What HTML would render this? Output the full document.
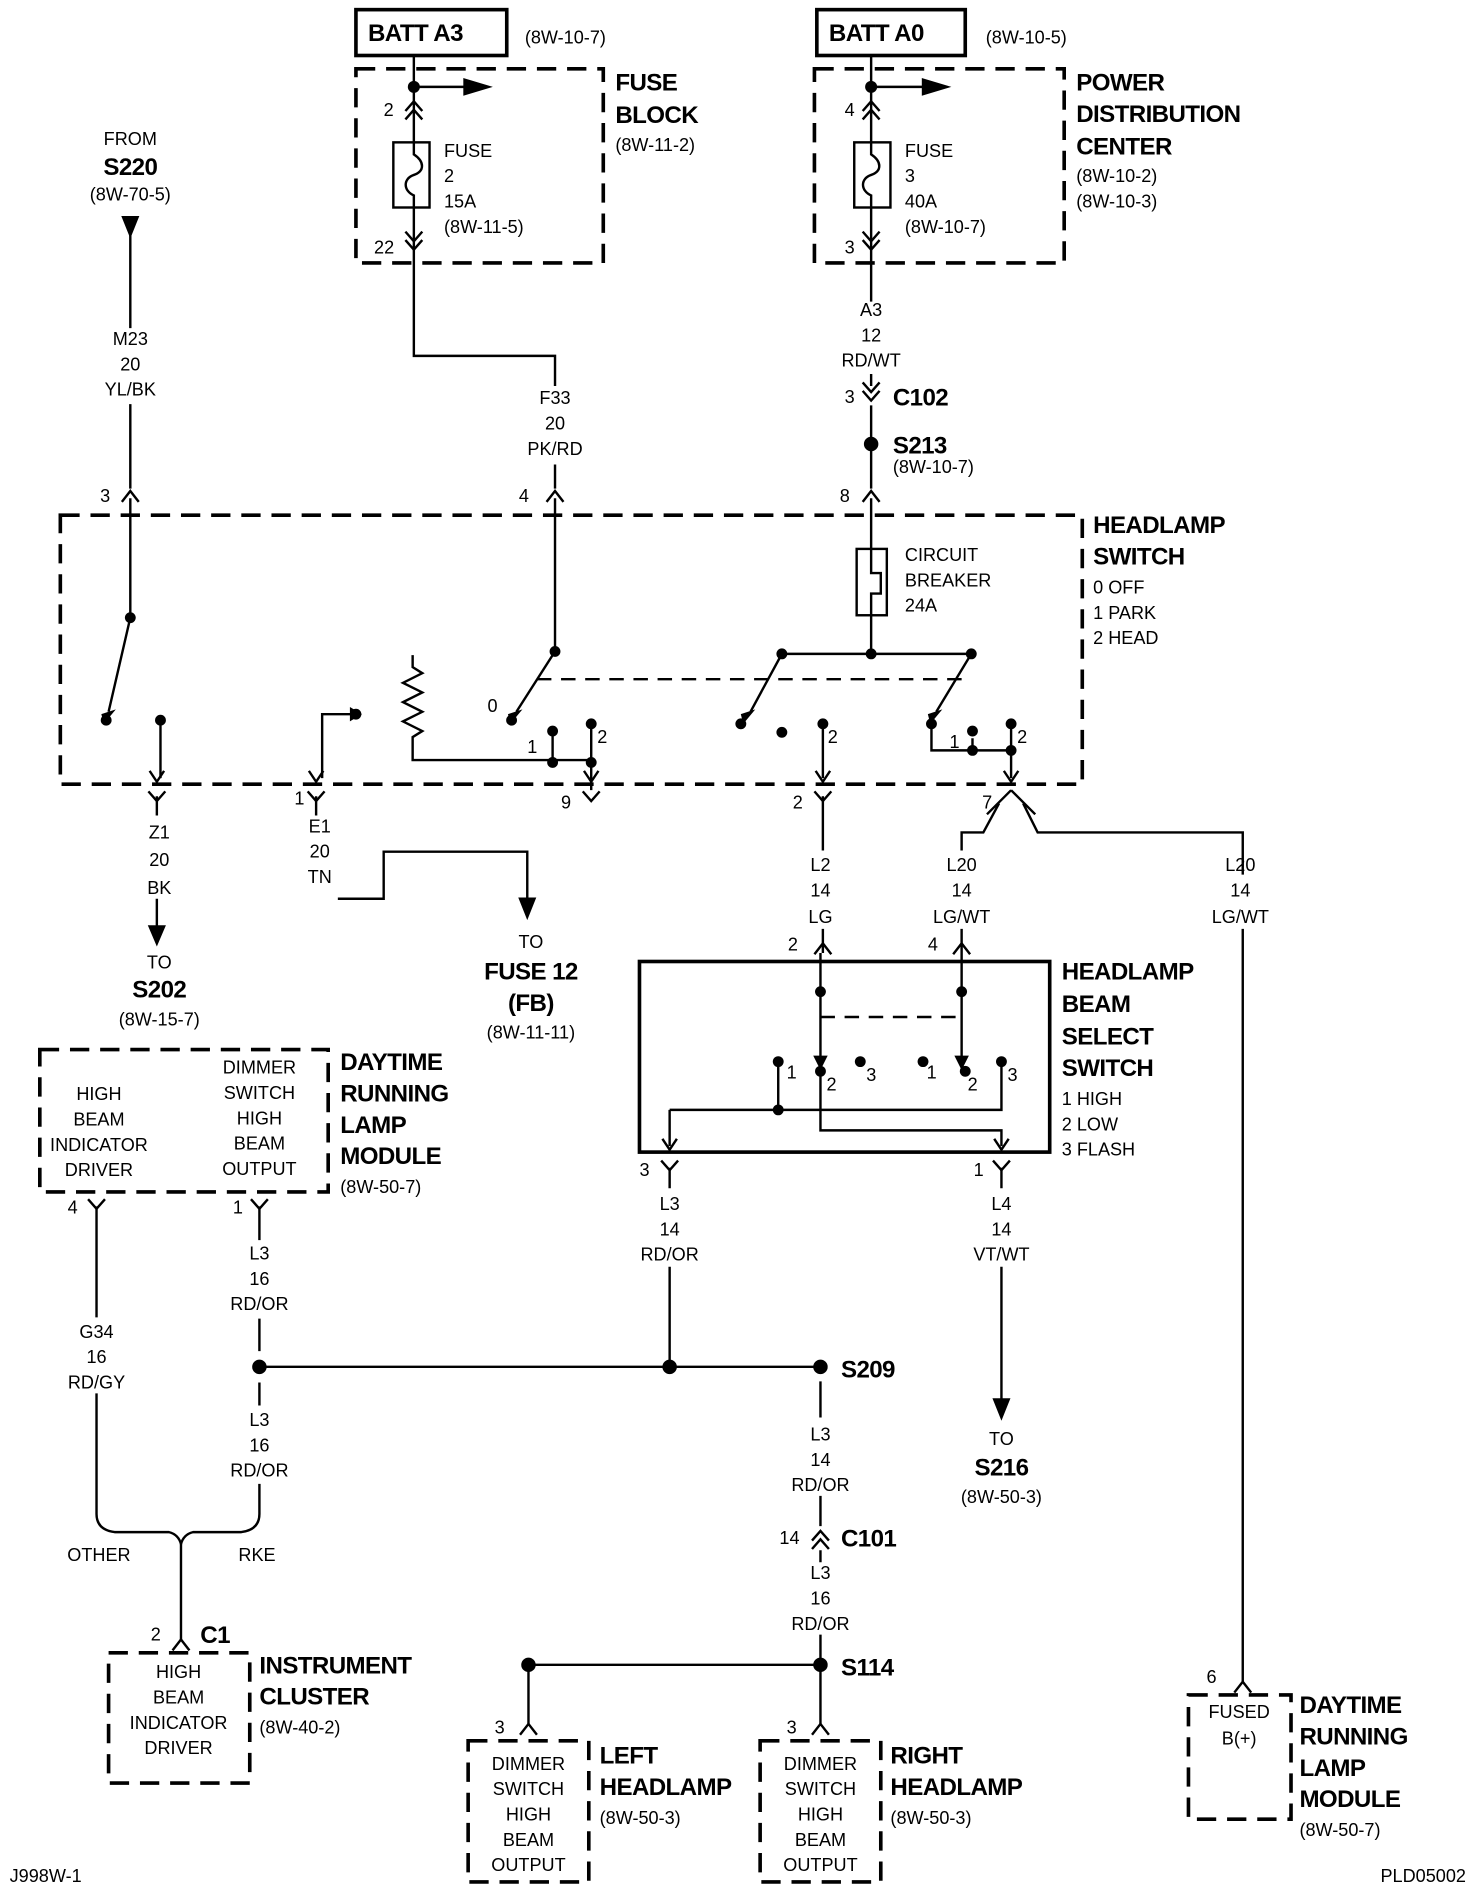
<!DOCTYPE html>
<html><head><meta charset="utf-8"><style>
html,body{margin:0;padding:0;background:#fff}
svg{display:block}
text{font-family:"Liberation Sans",Arial,sans-serif;font-size:15px;fill:#000}
.b{font-weight:bold;font-size:20px;letter-spacing:-0.5px}
.c{text-anchor:middle}
</style></head><body>
<svg width="1472" height="1888" viewBox="0 0 1220 1565" preserveAspectRatio="none" xmlns="http://www.w3.org/2000/svg">
<defs>
<path id="fa" d="M-7,6 L0,-3 L7,6" fill="none" stroke="#000" stroke-width="2"/>
<path id="ma" d="M-7,-6 L0,2 L7,-6" fill="none" stroke="#000" stroke-width="2"/>
<g id="dup"><path d="M-7,4 L0,-4 L7,4 M-7,11 L0,3 L7,11" fill="none" stroke="#000" stroke-width="2"/></g>
<g id="ddn"><path d="M-7,-4 L0,4 L7,-4 M-7,-11 L0,-3 L7,-11" fill="none" stroke="#000" stroke-width="2"/></g>
<path id="av" d="M-6,-9 L0,0 L6,-9" fill="none" stroke="#000" stroke-width="2"/>
</defs>
<g stroke="#000" stroke-width="2" fill="none">
<rect x="295" y="8" width="125" height="38" stroke-width="3"/>
<rect x="677" y="8" width="123" height="38" stroke-width="3"/>
<g stroke-dasharray="16,9" stroke-width="3">
<rect x="295" y="57" width="205" height="161"/>
<rect x="675" y="57" width="207" height="161"/>
<rect x="50" y="427" width="847" height="223"/>
<rect x="33" y="870" width="239" height="118"/>
<rect x="90" y="1370" width="117" height="108"/>
<rect x="388" y="1443" width="100" height="117"/>
<rect x="630" y="1443" width="100" height="117"/>
<rect x="985" y="1405" width="85" height="103"/>
</g>
<rect x="530" y="797" width="340" height="158" stroke-width="3"/>
<path d="M343,46 V118 M343,172 V295 H460 V320 M460,385 V405"/>
<path d="M343,72 H385"/><path d="M385,66 L405,72 L385,78 Z" fill="#000"/>
<rect x="326" y="118" width="30" height="54"/>
<path d="M343,118 V128 C352,134 352,142 343,145 C334,148 334,158 343,162 V172"/>
<path d="M722,46 V118 M722,172 V250 M722,310 V320 M722,336 V405"/>
<path d="M722,72 H765"/><path d="M765,66 L785,72 L765,78 Z" fill="#000"/>
<rect x="708" y="118" width="30" height="54"/>
<path d="M722,118 V128 C731,134 731,142 722,145 C713,148 713,158 722,162 V172"/>
<path d="M102,180 L114,180 L108,195 Z" fill="#000"/>
<path d="M108,195 V272 M108,335 V405"/>
<path d="M108,413 V512 L90,590"/>
<path d="M133,597 V645"/>
<path d="M460,413 V540 L428,590"/>
<path d="M445,563 H805" stroke-dasharray="12,8"/>
<path d="M458,606 V632 M490,600 V655 M342,543 L342,553 L350,558 L334,566 L350,574 L334,582 L350,590 L334,598 L350,606 L342,611 V630 H490"/>
<path d="M295,592 H267 V645"/>
<path d="M722,413 V455 M722,510 V542"/>
<rect x="710" y="455" width="25" height="55"/>
<path d="M722,455 V475 H730 V492 H722 V510"/>
<path d="M648,542 H805 M648,542 L622,590 M805,542 L776,590"/>
<path d="M682,600 V645 M772,600 V622 H838 M806,612 V622 M838,600 V645"/>
<path d="M130,660 V676 M130,745 V770"/>
<path d="M124,768 L136,768 L130,782 Z" fill="#000"/>
<path d="M262,660 V676 M280,745 H318 V706 H437 V745"/>
<path d="M431,745 L443,745 L437,760 Z" fill="#000"/>
<path d="M682,660 V705"/>
<path d="M838,655 L818,675 M838,655 L858,675 M828,666 L815,690 H797 V705 M848,666 L860,690 H1030 V725 M1030,770 V1395"/>
<path d="M682,770 V790 M797,770 V790"/>
<path d="M680,790 V885 M797,790 V885"/>
<path d="M645,880 V920 M555,920 H830 V880 M555,920 V950 M680,888 V937 H830 V950"/>
<path d="M555,968 V985 M830,968 V985 M830,1050 V1160"/>
<path d="M824,1160 L836,1160 L830,1175 Z" fill="#000"/>
<path d="M555,1050 V1133 M215,1133 H680 M680,1145 V1175 M680,1240 V1265 M680,1285 V1295 M680,1355 V1430 M438,1380 H680 M438,1380 V1430"/>
<path d="M80,1000 V1092 M80,1155 V1255 Q80,1268 95,1270 L140,1270 Q148,1272 150,1280 Q152,1272 160,1270 L200,1270 Q215,1268 215,1255 V1230"/>
<path d="M215,1000 V1028 M215,1093 V1120 M215,1146 V1165"/>
<path d="M150,1280 V1360"/>
</g>
<path d="M680,843 H797" stroke="#000" stroke-width="2" stroke-dasharray="12,8" fill="none"/>
<g fill="#000">
<path d="M84,592 L96,588 L86,600 Z"/><path d="M421,592 L433,588 L423,600 Z"/>
<path d="M614,592 L626,588 L616,600 Z"/><path d="M769,592 L781,588 L771,600 Z"/>
<path d="M290,586 L300,592 L290,598 Z"/>
<path d="M674,875 L686,875 L680,887 Z"/><path d="M791,875 L803,875 L797,887 Z"/>
</g>
<g fill="#000">
<circle cx="343" cy="72" r="5"/><circle cx="722" cy="72" r="5"/>
<circle cx="722" cy="368" r="6"/>
<circle cx="108" cy="512" r="4.5"/><circle cx="88" cy="597" r="4.5"/><circle cx="133" cy="597" r="4.5"/>
<circle cx="460" cy="540" r="4.5"/><circle cx="424" cy="597" r="4.5"/><circle cx="458" cy="606" r="4.5"/><circle cx="490" cy="600" r="4.5"/><circle cx="458" cy="632" r="4.5"/><circle cx="490" cy="632" r="4.5"/>
<circle cx="295" cy="592" r="4.5"/>
<circle cx="722" cy="542" r="4.5"/><circle cx="648" cy="542" r="4.5"/><circle cx="805" cy="542" r="4.5"/>
<circle cx="614" cy="600" r="4.5"/><circle cx="648" cy="607" r="4.5"/><circle cx="682" cy="600" r="4.5"/>
<circle cx="772" cy="600" r="4.5"/><circle cx="806" cy="606" r="4.5"/><circle cx="838" cy="600" r="4.5"/><circle cx="806" cy="622" r="4.5"/><circle cx="838" cy="622" r="4.5"/>
<circle cx="680" cy="822" r="4.5"/><circle cx="797" cy="822" r="4.5"/>
<circle cx="645" cy="880" r="4.5"/><circle cx="680" cy="888" r="4.5"/><circle cx="713" cy="880" r="4.5"/><circle cx="765" cy="880" r="4.5"/><circle cx="800" cy="888" r="4.5"/><circle cx="830" cy="880" r="4.5"/><circle cx="645" cy="920" r="4.5"/>
<circle cx="215" cy="1133" r="6"/><circle cx="555" cy="1133" r="6"/><circle cx="680" cy="1133" r="6"/>
<circle cx="438" cy="1380" r="6"/><circle cx="680" cy="1380" r="6"/>
</g>
<use href="#dup" x="343" y="88"/><use href="#ddn" x="343" y="203"/>
<use href="#dup" x="722" y="88"/><use href="#ddn" x="722" y="203"/>
<use href="#ddn" x="722" y="328"/>
<use href="#fa" x="108" y="410"/><use href="#fa" x="460" y="410"/><use href="#fa" x="722" y="410"/>
<use href="#av" x="130" y="648"/><use href="#ma" x="130" y="662"/>
<use href="#av" x="262" y="648"/><use href="#ma" x="262" y="662"/>
<use href="#av" x="490" y="648"/><use href="#ma" x="490" y="662"/>
<use href="#av" x="682" y="648"/><use href="#ma" x="682" y="662"/>
<use href="#av" x="838" y="648"/>
<use href="#fa" x="682" y="785"/><use href="#fa" x="797" y="785"/>
<use href="#av" x="555" y="953"/><use href="#ma" x="555" y="968"/>
<use href="#av" x="830" y="953"/><use href="#ma" x="830" y="968"/>
<use href="#ma" x="80" y="1000"/><use href="#ma" x="215" y="1000"/>
<use href="#fa" x="150" y="1362"/>
<use href="#dup" x="680" y="1273"/>
<use href="#fa" x="438" y="1432"/><use href="#fa" x="680" y="1432"/>
<use href="#fa" x="1030" y="1397"/>
<text class="b" x="305" y="34">BATT A3</text><text x="435" y="36">(8W-10-7)</text>
<text class="b" x="687" y="34">BATT A0</text><text x="817" y="36">(8W-10-5)</text>
<text x="318" y="96">2</text><text x="310" y="210">22</text>
<text x="368" y="130">FUSE</text><text x="368" y="151">2</text><text x="368" y="172">15A</text><text x="368" y="193">(8W-11-5)</text>
<text class="b" x="510" y="75">FUSE</text><text class="b" x="510" y="102">BLOCK</text><text x="510" y="125">(8W-11-2)</text>
<text x="700" y="96">4</text><text x="700" y="210">3</text>
<text x="750" y="130">FUSE</text><text x="750" y="151">3</text><text x="750" y="172">40A</text><text x="750" y="193">(8W-10-7)</text>
<text class="b" x="892" y="75">POWER</text><text class="b" x="892" y="101">DISTRIBUTION</text><text class="b" x="892" y="128">CENTER</text><text x="892" y="151">(8W-10-2)</text><text x="892" y="172">(8W-10-3)</text>
<text class="c" x="722" y="262">A3</text><text class="c" x="722" y="283">12</text><text class="c" x="722" y="304">RD/WT</text>
<text x="700" y="334">3</text><text class="b" x="740" y="336">C102</text>
<text class="b" x="740" y="376">S213</text><text x="740" y="392">(8W-10-7)</text>
<text class="c" x="108" y="120">FROM</text><text class="b c" x="108" y="145">S220</text><text class="c" x="108" y="166">(8W-70-5)</text>
<text class="c" x="108" y="286">M23</text><text class="c" x="108" y="307">20</text><text class="c" x="108" y="328">YL/BK</text>
<text class="c" x="460" y="335">F33</text><text class="c" x="460" y="356">20</text><text class="c" x="460" y="377">PK/RD</text>
<text x="83" y="416">3</text><text x="430" y="416">4</text><text x="696" y="416">8</text>
<text class="b" x="906" y="442">HEADLAMP</text><text class="b" x="906" y="468">SWITCH</text>
<text x="906" y="492">0 OFF</text><text x="906" y="513">1 PARK</text><text x="906" y="534">2 HEAD</text>
<text x="750" y="465">CIRCUIT</text><text x="750" y="486">BREAKER</text><text x="750" y="507">24A</text>
<text x="404" y="590">0</text><text x="437" y="624">1</text><text x="495" y="616">2</text>
<text x="686" y="616">2</text><text x="787" y="620">1</text><text x="843" y="616">2</text>
<text x="244" y="667">1</text><text x="465" y="670">9</text><text x="657" y="670">2</text><text x="814" y="670">7</text>
<text class="c" x="132" y="695">Z1</text><text class="c" x="132" y="718">20</text><text class="c" x="132" y="741">BK</text>
<text class="c" x="132" y="803">TO</text><text class="b c" x="132" y="827">S202</text><text class="c" x="132" y="850">(8W-15-7)</text>
<text class="c" x="265" y="690">E1</text><text class="c" x="265" y="711">20</text><text class="c" x="265" y="732">TN</text>
<text class="c" x="440" y="786">TO</text><text class="b c" x="440" y="812">FUSE 12</text><text class="b c" x="440" y="838">(FB)</text><text class="c" x="440" y="861">(8W-11-11)</text>
<text class="c" x="680" y="722">L2</text><text class="c" x="680" y="743">14</text><text class="c" x="680" y="765">LG</text>
<text class="c" x="797" y="722">L20</text><text class="c" x="797" y="743">14</text><text class="c" x="797" y="765">LG/WT</text>
<text class="c" x="1028" y="722">L20</text><text class="c" x="1028" y="743">14</text><text class="c" x="1028" y="765">LG/WT</text>
<text x="653" y="788">2</text><text x="769" y="788">4</text>
<text class="b" x="880" y="812">HEADLAMP</text><text class="b" x="880" y="839">BEAM</text><text class="b" x="880" y="866">SELECT</text><text class="b" x="880" y="892">SWITCH</text>
<text x="880" y="916">1 HIGH</text><text x="880" y="937">2 LOW</text><text x="880" y="958">3 FLASH</text>
<text x="652" y="894">1</text><text x="685" y="904">2</text><text x="718" y="896">3</text><text x="768" y="894">1</text><text x="802" y="904">2</text><text x="835" y="896">3</text>
<text x="530" y="975">3</text><text x="807" y="975">1</text>
<text class="c" x="555" y="1003">L3</text><text class="c" x="555" y="1024">14</text><text class="c" x="555" y="1045">RD/OR</text>
<text class="c" x="830" y="1003">L4</text><text class="c" x="830" y="1024">14</text><text class="c" x="830" y="1045">VT/WT</text>
<text class="c" x="830" y="1198">TO</text><text class="b c" x="830" y="1223">S216</text><text class="c" x="830" y="1246">(8W-50-3)</text>
<text class="c" x="82" y="912">HIGH</text><text class="c" x="82" y="933">BEAM</text><text class="c" x="82" y="954">INDICATOR</text><text class="c" x="82" y="975">DRIVER</text>
<text class="c" x="215" y="890">DIMMER</text><text class="c" x="215" y="911">SWITCH</text><text class="c" x="215" y="932">HIGH</text><text class="c" x="215" y="953">BEAM</text><text class="c" x="215" y="974">OUTPUT</text>
<text class="b" x="282" y="887">DAYTIME</text><text class="b" x="282" y="913">RUNNING</text><text class="b" x="282" y="939">LAMP</text><text class="b" x="282" y="965">MODULE</text><text x="282" y="989">(8W-50-7)</text>
<text x="56" y="1006">4</text><text x="193" y="1006">1</text>
<text class="c" x="80" y="1109">G34</text><text class="c" x="80" y="1130">16</text><text class="c" x="80" y="1151">RD/GY</text>
<text class="c" x="215" y="1044">L3</text><text class="c" x="215" y="1065">16</text><text class="c" x="215" y="1086">RD/OR</text>
<text class="c" x="215" y="1182">L3</text><text class="c" x="215" y="1203">16</text><text class="c" x="215" y="1224">RD/OR</text>
<text class="b" x="697" y="1142">S209</text>
<text class="c" x="680" y="1194">L3</text><text class="c" x="680" y="1215">14</text><text class="c" x="680" y="1236">RD/OR</text>
<text x="646" y="1280">14</text><text class="b" x="697" y="1282">C101</text>
<text class="c" x="680" y="1309">L3</text><text class="c" x="680" y="1330">16</text><text class="c" x="680" y="1351">RD/OR</text>
<text class="b" x="697" y="1389">S114</text>
<text class="c" x="82" y="1294">OTHER</text><text class="c" x="213" y="1294">RKE</text>
<text x="125" y="1360">2</text><text class="b" x="166" y="1362">C1</text>
<text class="c" x="148" y="1391">HIGH</text><text class="c" x="148" y="1412">BEAM</text><text class="c" x="148" y="1433">INDICATOR</text><text class="c" x="148" y="1454">DRIVER</text>
<text class="b" x="215" y="1387">INSTRUMENT</text><text class="b" x="215" y="1413">CLUSTER</text><text x="215" y="1437">(8W-40-2)</text>
<text x="410" y="1437">3</text><text x="652" y="1437">3</text>
<text class="c" x="438" y="1467">DIMMER</text><text class="c" x="438" y="1488">SWITCH</text><text class="c" x="438" y="1509">HIGH</text><text class="c" x="438" y="1530">BEAM</text><text class="c" x="438" y="1551">OUTPUT</text>
<text class="c" x="680" y="1467">DIMMER</text><text class="c" x="680" y="1488">SWITCH</text><text class="c" x="680" y="1509">HIGH</text><text class="c" x="680" y="1530">BEAM</text><text class="c" x="680" y="1551">OUTPUT</text>
<text class="b" x="497" y="1462">LEFT</text><text class="b" x="497" y="1488">HEADLAMP</text><text x="497" y="1512">(8W-50-3)</text>
<text class="b" x="738" y="1462">RIGHT</text><text class="b" x="738" y="1488">HEADLAMP</text><text x="738" y="1512">(8W-50-3)</text>
<text x="1000" y="1395">6</text>
<text class="c" x="1027" y="1424">FUSED</text><text class="c" x="1027" y="1446">B(+)</text>
<text class="b" x="1077" y="1420">DAYTIME</text><text class="b" x="1077" y="1446">RUNNING</text><text class="b" x="1077" y="1472">LAMP</text><text class="b" x="1077" y="1498">MODULE</text><text x="1077" y="1522">(8W-50-7)</text>
<text x="8" y="1560">J998W-1</text><text x="1215" y="1560" text-anchor="end">PLD05002</text>
</svg>
</body></html>
